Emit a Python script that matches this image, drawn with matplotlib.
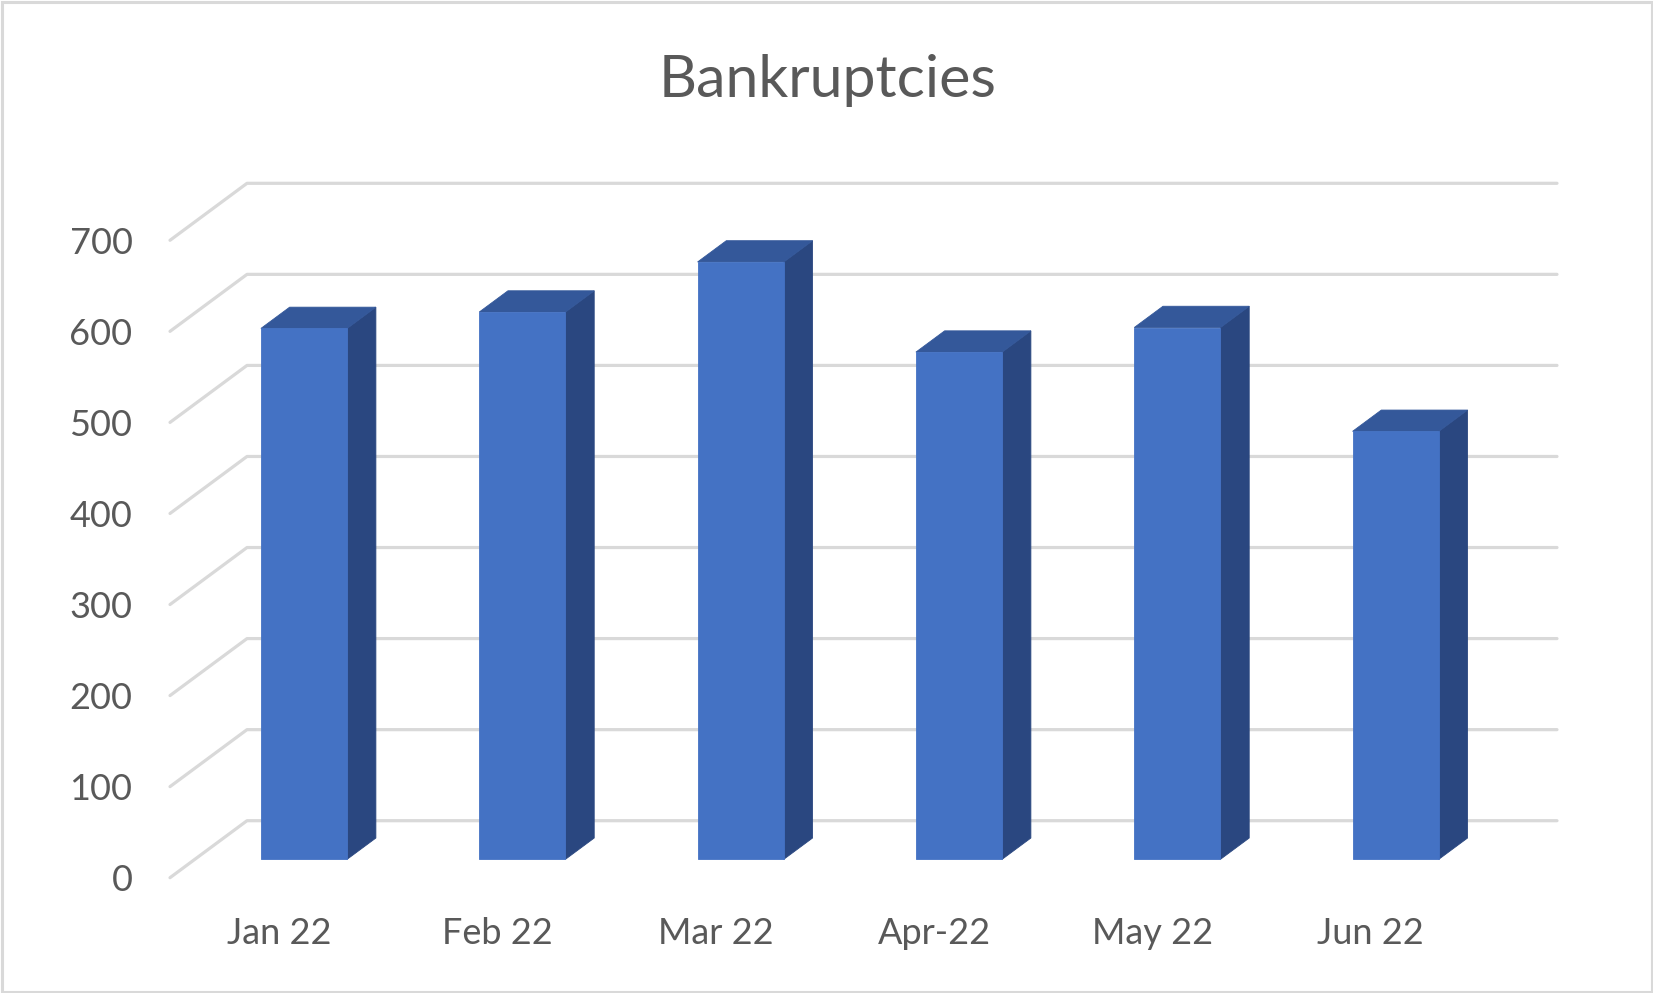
import matplotlib
matplotlib.use("Agg")
import matplotlib.pyplot as plt
from matplotlib.patches import Polygon, Rectangle
import numpy as np

# ---- data ----
categories = ["Jan 22", "Feb 22", "Mar 22", "Apr-22", "May 22", "Jun 22"]
values = [583, 601, 656, 557, 584, 470]
yticks = [0, 100, 200, 300, 400, 500, 600, 700]
title = "Bankruptcies"

# ---- style ----
FONT = ["Lato", "DejaVu Sans"]
TXT = "#595959"
GRID = "#d9d9d9"
FRONT = "#4472C4"
TOP = "#34589A"
SIDE = "#2A4780"

W, H = 1653, 993
fig = plt.figure(figsize=(W / 100, H / 100), dpi=100)
fig.patch.set_facecolor("white")

ax = fig.add_axes([170 / W, 115.3 / H, 1310 / W, 637.4 / H])
ax.set_xlim(-0.5, len(categories) - 0.5)
ax.set_ylim(0, 700)
ax.set_facecolor("none")
for s in ax.spines.values():
    s.set_visible(False)

# depth vector (pixels) converted to data units
p0 = ax.transData.transform((0, 0))
dxd, dyd = ax.transData.inverted().transform(p0 + np.array([77.0, 57.0])) - np.array([0.0, 0.0])

# gridlines: diagonal on left side wall + line along back wall
xl, xr = -0.5, len(categories) - 0.5
for v in yticks:
    ax.plot([xl, xl + dxd, xr + dxd], [v, v + dyd, v + dyd], color=GRID, lw=2.3,
            solid_capstyle="round", clip_on=False, zorder=1)

# 3D bars
bw = 0.395
f, b = 0.323, 0.696
for i, v in enumerate(values):
    x0, x1 = i - bw / 2, i + bw / 2
    front = [(x0 + f * dxd, f * dyd), (x1 + f * dxd, f * dyd),
             (x1 + f * dxd, v + f * dyd), (x0 + f * dxd, v + f * dyd)]
    side = [(x1 + f * dxd, f * dyd), (x1 + b * dxd, b * dyd),
            (x1 + b * dxd, v + b * dyd), (x1 + f * dxd, v + f * dyd)]
    top = [(x0 + f * dxd, v + f * dyd), (x1 + f * dxd, v + f * dyd),
           (x1 + b * dxd, v + b * dyd), (x0 + b * dxd, v + b * dyd)]
    for pts, c in ((side, SIDE), (top, TOP), (front, FRONT)):
        ax.add_patch(Polygon(pts, closed=True, facecolor=c, edgecolor=c, lw=0.6,
                             clip_on=False, zorder=3))

ax.set_yticks(yticks)
ax.set_yticklabels([str(t) for t in yticks])
ax.set_xticks(range(len(categories)))
ax.set_xticklabels(categories)
ax.tick_params(axis="y", length=0, pad=27, labelsize=26, labelcolor=TXT)
ax.tick_params(axis="x", length=0, pad=28, labelsize=26, labelcolor=TXT)
for lab in ax.get_xticklabels() + ax.get_yticklabels():
    lab.set_family(FONT)

fig.text(827.5 / W, 1 - 96.7 / H, title, ha="center", va="baseline",
         fontsize=42.5, color=TXT, family=FONT)

# chart border
fig.patches.append(Rectangle((1.5 / W, 1.5 / H), 1 - 3 / W, 1 - 3 / H,
                             transform=fig.transFigure, fill=False,
                             edgecolor=GRID, lw=2.2))

fig.savefig("out.png", dpi=100)
